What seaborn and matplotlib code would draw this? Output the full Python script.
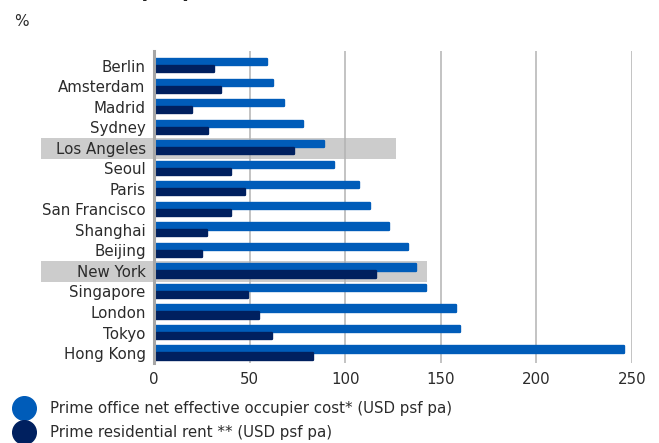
import matplotlib
matplotlib.use("Agg")
import matplotlib.pyplot as plt
import seaborn as sns
import pandas as pd
from matplotlib.patches import Rectangle
from matplotlib.lines import Line2D

cities = ["Berlin", "Amsterdam", "Madrid", "Sydney", "Los Angeles", "Seoul", "Paris",
          "San Francisco", "Shanghai", "Beijing", "New York", "Singapore", "London",
          "Tokyo", "Hong Kong"]
office = [59, 62, 68, 78, 89, 94, 107, 113, 123, 133, 137, 142, 158, 160, 246]
residential = [31.5, 35, 20, 28.5, 73, 40.5, 47.5, 40.5, 27.5, 25, 116, 49, 55, 61.5, 83]
series = ["Prime office net effective occupier cost* (USD psf pa)",
          "Prime residential rent ** (USD psf pa)"]
highlight = {"Los Angeles": 126.5, "New York": 142.8}
xticks = [0, 50, 100, 150, 200, 250]

c_office = "#005CB9"
c_res = "#00205F"

sns.set_theme(style="white")
plt.rcParams["font.family"] = ["DejaVu Sans"]

df = pd.DataFrame({
    "city": cities * 2,
    "value": office + residential,
    "series": [series[0]] * len(cities) + [series[1]] * len(cities),
})

fig = plt.figure(figsize=(6.59, 4.43), dpi=100)
ax = fig.add_axes([154 / 659, 1 - 363.3 / 443, (632 - 154) / 659, (363.3 - 51.4) / 443])

sns.barplot(data=df, y="city", x="value", hue="series", order=cities,
            hue_order=series, palette=[c_office, c_res], orient="h",
            saturation=1, width=0.68, gap=0.12, ax=ax, legend=False, zorder=3)

for p in ax.patches:
    p.set_edgecolor(p.get_facecolor())
    p.set_linewidth(1.7)
    p.set_joinstyle("round")

ax.set_xlim(0, 250)
ax.set_ylim(14.5, -0.7)
ax.set_xticks(xticks)
ax.set_xticklabels([str(t) for t in xticks])
ax.set_xlabel("")
ax.set_ylabel("")
ax.xaxis.grid(True, color="#b3b3b3", linewidth=1.1, zorder=0)
ax.yaxis.grid(False)
for s in ["top", "right", "bottom"]:
    ax.spines[s].set_visible(False)
ax.spines["left"].set_color("#a6a6a6")
ax.spines["left"].set_linewidth(2.2)
ax.spines["left"].set_zorder(4)
ax.tick_params(axis="both", length=0, labelsize=10.8, colors="#2b2b2b")
ax.tick_params(axis="y", pad=6)
ax.tick_params(axis="x", pad=6)

for city, right in highlight.items():
    i = cities.index(city)
    rect = Rectangle((-59.3, i - 0.48), right + 59.3, 1.0, facecolor="#cccccc",
                     edgecolor="none", zorder=0, clip_on=False)
    ax.add_patch(rect)

fig.text(14 / 659, 1 - 22 / 443, "%", fontsize=11, color="#2b2b2b", va="center")
fig.text(80 / 659, 1 + 3 / 443, "(USD psf pa)", fontsize=14, fontweight="bold",
         color="#222222", va="baseline")

handles = [Line2D([], [], marker="o", linestyle="none", markersize=17,
                  markerfacecolor=c, markeredgecolor=c) for c in (c_office, c_res)]
fig.legend(handles, series, loc="upper left", bbox_to_anchor=(16 / 659, 1 - 401 / 443),
           frameon=False, fontsize=10.8, handletextpad=1.25, labelspacing=0.6,
           borderaxespad=0, handlelength=1.0, labelcolor="#2b2b2b",
           borderpad=0.0)

fig.savefig("out.png", dpi=100)
